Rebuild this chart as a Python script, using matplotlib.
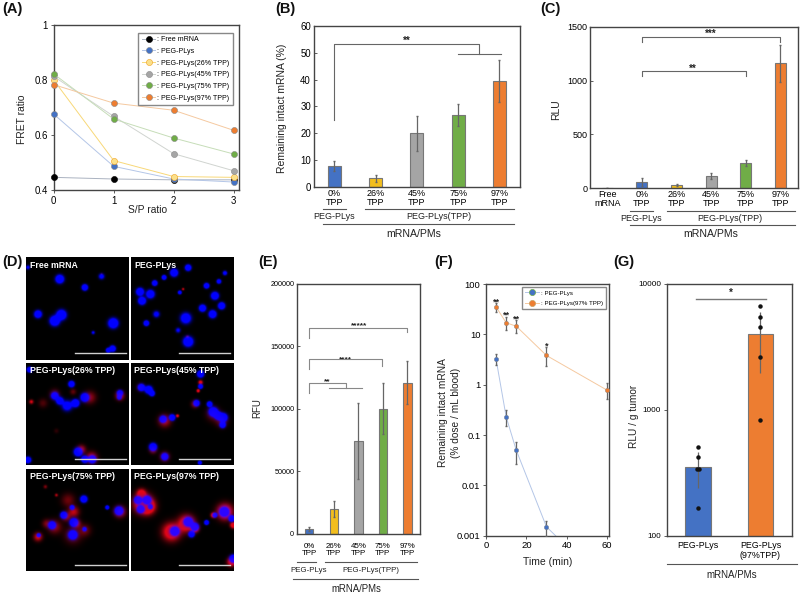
"""Multi-panel figure: FRET, intact mRNA, RLU, microscopy, RFU, blood retention, tumor RLU."""
import matplotlib
matplotlib.use("Agg")
import matplotlib.pyplot as plt
import numpy as np

plt.rcParams["font.family"] = ["Liberation Sans", "DejaVu Sans"]

W, H = 800, 594
BLUE, YELLOW, GRAY, GREEN, ORANGE = "#4472C4", "#F2BE1E", "#A5A5A5", "#70AD47", "#ED7D31"
FRAME = "#444444"
ERR = "#666666"

# (A)
sp_ratio = [0, 1, 2, 3]
fret_free = [0.446, 0.440, 0.437, 0.437]
fret_plys = [0.676, 0.486, 0.440, 0.429]
fret_26 = [0.800, 0.507, 0.449, 0.446]
fret_45 = [0.813, 0.668, 0.532, 0.470]
fret_75 = [0.822, 0.658, 0.589, 0.531]
fret_97 = [0.783, 0.716, 0.690, 0.617]
fret_names = [": Free mRNA", ": PEG-PLys", ": PEG-PLys(26% TPP)", ": PEG-PLys(45% TPP)",
              ": PEG-PLys(75% TPP)", ": PEG-PLys(97% TPP)"]

# (B)
tpp_labels = ["0%\nTPP", "26%\nTPP", "45%\nTPP", "75%\nTPP", "97%\nTPP"]
intact = [7.9, 3.4, 20.1, 26.8, 39.5]
intact_err = [1.9, 1.3, 6.5, 4.1, 7.8]

# (C)
rlu_labels = ["Free\nmRNA"] + tpp_labels
rlu = [5, 60, 30, 112, 235, 1160]
rlu_err = [2, 35, 10, 30, 30, 170]

# (E)
rfu = [3500, 19500, 74000, 100000, 121000]
rfu_err = [1500, 6500, 30500, 20500, 17500]

# (F)
time_min = [5, 10, 15, 30, 60]
blood_plys = [3.2, 0.23, 0.05, 0.0015, 0.0001]
blood_plys_lo = [0.7, 0.08, 0.024, 0.0005, 0]
blood_plys_hi = [0.8, 0.08, 0.022, 0.0005, 0]
blood_97 = [35, 17, 14.5, 3.8, 0.78]
blood_97_lo = [7, 5, 4, 1.4, 0.27]
blood_97_hi = [7, 5, 4.5, 1.8, 0.28]

# (G)
tumor_labels = ["PEG-PLys", "PEG-PLys\n(97%TPP)"]
tumor = [349, 3980]
tumor_lo = [109, 2006]
tumor_hi = [116, 2010]
tumor_pts_plys = [510, 419, 337, 337, 167]
tumor_pts_plys_x = [0, 0, -0.02, 0.02, 0]
tumor_pts_97 = [6643, 5500, 4525, 2614, 836]

# (D) spots: x, y, radius, strength (panel is 307 wide)
micro_names = ["Free mRNA", "PEG-PLys", "PEG-PLys(26% TPP)",
               "PEG-PLys(45% TPP)", "PEG-PLys(75% TPP)", "PEG-PLys(97% TPP)"]
micro_blue = [
    [(100, 65, 11, 1), (175, 90, 8, 1), (225, 57, 8, .5), (35, 170, 10, .9), (85, 190, 13, 1),
     (105, 172, 13, 1), (260, 197, 13, 1), (245, 278, 6, 1), (258, 273, 8, 1), (200, 225, 5, .4),
     (5, 30, 6, .4)],
    [(128, 46, 10, 1), (170, 31, 8, 1), (98, 60, 6, 1), (70, 77, 7, 1), (26, 103, 10, 1),
     (57, 110, 11, .9), (32, 130, 10, 1), (225, 85, 7, 1), (262, 72, 6, .8), (280, 47, 6, .6),
     (250, 115, 10, 1), (213, 152, 9, 1), (243, 170, 10, 1), (270, 145, 9, 1), (163, 182, 14, .8),
     (75, 170, 9, .5), (45, 197, 7, 1), (140, 218, 7, .4), (170, 252, 13, 1), (145, 105, 5, .8)],
    [(135, 65, 8, 1), (85, 100, 10, .8), (100, 115, 10, .8), (122, 130, 14, .6), (147, 122, 10, 1),
     (175, 105, 11, 1), (280, 92, 8, .9), (278, 105, 6, .8), (155, 268, 11, 1), (175, 290, 9, 1),
     (197, 290, 10, 1), (5, 292, 8, 1), (10, 22, 7, 1)],
    [(30, 75, 9, 1), (52, 82, 10, 1), (62, 93, 7, 1), (207, 35, 9, 1), (207, 72, 6, 1),
     (195, 122, 8, 1), (234, 125, 7, 1), (245, 148, 12, 1), (260, 160, 10, 1), (275, 165, 11, 1),
     (273, 187, 8, 1), (95, 170, 9, 1), (122, 165, 8, 1), (65, 253, 10, 1), (100, 282, 9, 1),
     (205, 300, 5, 1)],
    [(172, 92, 9, 1), (137, 117, 6, 1), (112, 140, 9, 1), (142, 162, 11, 1), (77, 170, 10, 1),
     (139, 199, 12, 1), (37, 200, 5, 1), (277, 127, 11, 1), (242, 117, 5, 1), (174, 182, 6, .7)],
    [(20, 95, 10, 1), (47, 95, 11, 1), (28, 122, 10, 1), (57, 115, 6, 1), (278, 130, 13, 1),
     (130, 188, 12, 1), (170, 160, 12, 1), (190, 175, 10, 1), (180, 197, 8, 1), (225, 162, 6, 1),
     (250, 140, 6, 1), (305, 270, 10, 1), (300, 150, 8, 1)],
]
micro_red = [
    [(225, 50, 3, .3)],
    [(168, 238, 5, .5), (155, 95, 4, .6)],
    [(15, 118, 7, .6), (50, 122, 15, .2), (85, 95, 16, .3), (140, 88, 10, .25), (190, 105, 20, .4),
     (280, 100, 14, .6), (165, 260, 14, .5), (195, 285, 18, .6), (90, 205, 8, .12)],
    [(207, 60, 7, .8), (200, 85, 5, 1), (190, 125, 12, .4), (245, 155, 22, .3), (270, 175, 20, .3),
     (100, 175, 20, .5), (138, 160, 5, .8), (65, 262, 12, .4), (100, 282, 15, .45), (28, 75, 12, .25)],
    [(57, 55, 6, .35), (90, 80, 5, .5), (125, 95, 22, .28), (142, 130, 18, .5), (150, 165, 14, .5),
     (85, 175, 22, .4), (140, 200, 28, .3), (175, 185, 20, .28), (35, 205, 14, .6), (280, 130, 18, .6),
     (120, 145, 15, .4), (60, 165, 14, .3)],
    [(35, 105, 30, 1), (50, 115, 22, 1), (30, 75, 14, .8), (120, 190, 28, 1), (165, 165, 26, 1),
     (280, 130, 25, 1), (245, 140, 8, .9), (300, 280, 14, .9), (305, 170, 10, .9), (190, 180, 12, 1)],
]


def px_axes(fig, left, top, right, bottom):
    return fig.add_axes([left / W, 1 - bottom / H, (right - left) / W, (bottom - top) / H])


def style(ax, size):
    for s in ax.spines.values():
        s.set_color(FRAME)
        s.set_linewidth(1.0)
    ax.tick_params(labelsize=size, length=2, width=0.6, color=FRAME, pad=2)
    ax.minorticks_off()


def bars(ax, vals, errs, colors, width, labels, size, ymax, pad=2):
    x = range(len(vals))
    ax.bar(x, vals, width=width, color=colors, edgecolor="#777777", linewidth=0.8)
    ax.errorbar(x, vals, yerr=errs, fmt="none", ecolor=ERR, elinewidth=0.9, capsize=1)
    ax.set_xlim(-0.5, len(vals) - 0.5)
    ax.set_ylim(0, ymax)
    ax.set_xticks(list(x))
    ax.set_xticklabels(labels, fontsize=size, linespacing=1.0)
    style(ax, size)
    ax.tick_params(axis="x", length=0, pad=pad)
    ax.tick_params(axis="y", direction="in")


def line(ax, xs, ys, color="#666666", lw=0.8):
    ax.plot(xs, ys, color=color, lw=lw, clip_on=False, zorder=6)


def stars(ax, x, y, s, size=7):
    # asterisks sit high in the text box, so nudge them down
    ax.annotate(s, (x, y), xytext=(0, -0.22 * size), textcoords="offset points", ha="center",
                va="center", fontsize=size, color="#222222", fontweight="bold")


def micrograph(blue_spots, red_spots):
    yy, xx = np.mgrid[0:307:2, 0:307:2]
    def layer(spots, gain, spread):
        out = np.zeros(xx.shape)
        for x, y, r, a in spots:
            out += a * gain * np.exp(-((xx - x) ** 2 + (yy - y) ** 2) / (2 * (spread * r) ** 2))
        return np.clip(out, 0, 1)
    b = layer(blue_spots, 3.0, 0.68)
    r = layer(red_spots, 1.7, 0.62)
    return np.dstack([0.88 * r * (1 - 0.8 * b), 0.02 * r, np.clip(b + 0.08 * r, 0, 1)])


fig = plt.figure(figsize=(W / 100, H / 100), dpi=100)

# (A)
ax = px_axes(fig, 53.7, 25, 239, 190)
fret_series = [fret_free, fret_plys, fret_26, fret_45, fret_75, fret_97]
fret_fill = ["#000000", BLUE, "#FBE08A", GRAY, GREEN, ORANGE]
fret_line = ["#AAB2C0", "#B4C6E7", "#F8D878", "#D0D4D0", "#C6DDB8", "#F5C9A0"]
for vals, fc, lc, name in zip(fret_series, fret_fill, fret_line, fret_names):
    edge = "#000000" if fc == "#000000" else "#F0A020" if fc == "#FBE08A" else "#8A8A8A"
    ax.plot(sp_ratio, vals, "-o", color=lc, lw=0.7, ms=4.4, mfc=fc, mec=edge, mew=0.4,
            clip_on=False, zorder=4, label=name)
ax.set_xlim(0, 3.09)
ax.set_ylim(0.4, 1)
ax.set_xticks(sp_ratio)
ax.set_yticks([0.4, 0.6, 0.8, 1])
ax.set_yticklabels(["0.4", "0.6", "0.8", "1"])
style(ax, 6.9)
ax.legend(loc="upper left", bbox_to_anchor=((138.3 - 53.7) / 185.3, 1 - (32.7 - 25) / 165), fontsize=5.1,
          frameon=True, fancybox=False, edgecolor="#888888", framealpha=1, borderpad=0.5,
          labelspacing=0.66, handlelength=1.9, handletextpad=0.2, borderaxespad=0)

# (B)
ax = px_axes(fig, 313.7, 25.7, 520, 187.3)
bars(ax, intact, intact_err, [BLUE, YELLOW, GRAY, GREEN, ORANGE], 0.32, tpp_labels, 6.5, 60, pad=1.5)
ax.set_yticks(range(0, 61, 10))
ax.tick_params(axis="y", labelsize=6.9)
line(ax, [0, 0, 3.516, 3.516], [25, 53.2, 53.2, 49.6])
line(ax, [3, 4.05], [49.6, 49.6])
stars(ax, 1.76, 55, "**")

# (C)
ax = px_axes(fig, 590, 26.7, 797.7, 188.3)
bars(ax, rlu, rlu_err, ["#444444", BLUE, YELLOW, GRAY, GREEN, ORANGE], 0.32, rlu_labels, 6.5, 1500, pad=1)
ax.set_yticks([0, 500, 1000, 1500])
line(ax, [1, 1, 5, 5], [1355, 1400, 1400, 1355])
line(ax, [1, 1, 4, 4], [1042, 1092, 1092, 1042])
stars(ax, 3, 1450, "***")
stars(ax, 2.48, 1130, "**")

# (D)
panel_xy = [(26.3, 257.3), (131, 257.3), (26.3, 363), (131, 363), (26.3, 468.7), (131, 468.7)]
for (px, py), name, b_spots, r_spots in zip(panel_xy, micro_names, micro_blue, micro_red):
    ax = px_axes(fig, px, py, px + 102.3, py + 102.3)
    ax.imshow(micrograph(b_spots, r_spots), extent=(0, 307, 307, 0), interpolation="bilinear")
    ax.plot([145, 298], [288, 288], color="#D0D0D0", lw=1.0)
    ax.text(10, 24, name, color="white", fontsize=6.3, fontweight="bold", va="center")
    ax.set_xlim(0, 307)
    ax.set_ylim(307, 0)
    ax.axis("off")

# (E)
ax = px_axes(fig, 297, 284, 419.7, 533.7)
bars(ax, rfu, rfu_err, [BLUE, YELLOW, GRAY, GREEN, ORANGE], 0.34, tpp_labels, 5.7, 200000, pad=7)
ax.set_yticks(range(0, 200001, 50000))
ax.tick_params(axis="y", labelsize=5.2)
line(ax, [0, 0, 3.97, 3.97], [157000, 165000, 165000, 161300], "#888888")
line(ax, [0, 0, 2.95, 2.95], [131600, 139600, 139600, 134600], "#888888")
line(ax, [0, 0, 1.48, 1.48], [113000, 121000, 121000, 117000], "#888888")
line(ax, [0.82, 2.13], [117000, 117000], "#888888")
stars(ax, 2.04, 167700, "*****", 6)
stars(ax, 1.48, 141000, "****", 6)
stars(ax, 0.75, 122800, "**", 6)

# (F)
ax = px_axes(fig, 486, 284, 609, 535.7)
ax.plot(time_min, blood_plys, "-", color="#B4C6E7", lw=0.7, zorder=2)
ax.plot(time_min, blood_97, "-", color="#F5C9A0", lw=0.7, zorder=2)
ax.errorbar(time_min[:4], blood_plys[:4], yerr=[blood_plys_lo[:4], blood_plys_hi[:4]], fmt="none",
            ecolor=ERR, elinewidth=0.9, capsize=1, zorder=3)
ax.errorbar(time_min, blood_97, yerr=[blood_97_lo, blood_97_hi], fmt="none",
            ecolor=ERR, elinewidth=0.9, capsize=1, zorder=3)
ax.plot(time_min[:4], blood_plys[:4], "o", ms=3.2, mfc=BLUE, mec="#8A8A8A", mew=0.3, zorder=4)
ax.plot(time_min, blood_97, "o", ms=3.2, mfc=ORANGE, mec="#8A8A8A", mew=0.3, zorder=4, clip_on=False)
ax.set_yscale("log")
ax.set_xlim(0, 61)
ax.set_ylim(0.001, 100)
ax.set_xticks([0, 20, 40, 60])
ax.set_yticks([0.001, 0.01, 0.1, 1, 10, 100])
ax.set_yticklabels(["0.001", "0.01", "0.1", "1", "10", "100"])
style(ax, 6.8)
for x, y, s in zip(time_min[:4], [48, 26, 21.8, 6.4], ["**", "**", "**", "*"]):
    stars(ax, x, y, s, 6.5)
h1, = ax.plot([], [], "-o", color="#B4C6E7", lw=0.7, ms=4.4, mfc=BLUE, mec=GREEN, mew=0.5)
h2, = ax.plot([], [], "-o", color="#F5C9A0", lw=0.7, ms=4.4, mfc=ORANGE, mec="#C8A060", mew=0.5)
ax.legend([h1, h2], [": PEG-PLys", ": PEG-PLys(97% TPP)"], loc="upper left",
          bbox_to_anchor=((521.7 - 486) / 123, 1 - (287.3 - 284) / 251.7), fontsize=4.4, frameon=True,
          fancybox=False, edgecolor="#888888", framealpha=1, borderpad=0.5, labelspacing=0.8,
          handlelength=2.4, handletextpad=0.2, borderaxespad=0)

# (G)
ax = px_axes(fig, 666.7, 284, 791.7, 535.7)
ax.bar([0, 1], tumor, width=0.405, color=[BLUE, ORANGE], edgecolor="#777777", linewidth=0.8, bottom=0)
ax.errorbar([0, 1], tumor, yerr=[tumor_lo, tumor_hi], fmt="none", ecolor=ERR, elinewidth=0.9)
ax.plot(tumor_pts_plys_x, tumor_pts_plys, "o", ms=2.2, color="#111111", zorder=5)
ax.plot([1] * len(tumor_pts_97), tumor_pts_97, "o", ms=2.2, color="#111111", zorder=5)
ax.set_yscale("log")
ax.set_xlim(-0.5, 1.5)
ax.set_ylim(100, 10000)
ax.set_xticks([0, 1])
ax.set_xticklabels(tumor_labels, fontsize=6.4, linespacing=1.15)
ax.set_yticks([100, 1000, 10000])
ax.set_yticklabels(["100", "1000", "10000"])
style(ax, 5.9)
ax.tick_params(axis="x", length=0, pad=4, labelsize=6.4)
line(ax, [-0.03, 1.09], [7600, 7600], "#777777", 1.0)
stars(ax, 0.53, 8800, "*", 7)

# overlay in pixel coordinates for the outer labels and group rules
pix = fig.add_axes([0, 0, 1, 1], zorder=20)
pix.set_xlim(0, W)
pix.set_ylim(H, 0)
pix.axis("off")


def t(x, y, s, size, rot=0, **kw):
    pix.text(x, y, s, fontsize=size, rotation=rot, ha=kw.pop("ha", "center"), va="center",
             color=kw.pop("color", "#222222"), linespacing=1.15, **kw)


def rule(x0, x1, y):
    pix.plot([x0, x1], [y, y], color="#555555", lw=0.8)


for x, y, s in [(2, 9, "(A)"), (275, 9, "(B)"), (540.7, 9, "(C)"), (2, 262, "(D)"),
                (258, 262, "(E)"), (434, 262, "(F)"), (613, 262, "(G)")]:
    t(x, y, s, 10.5, ha="left", fontweight="bold", color="#111111")

t(148, 210, "S/P ratio", 7.4)
t(22, 119, "FRET ratio", 7.4, rot=90)
t(281.7, 108, "Remaining intact mRNA (%)", 7.5, rot=90)
t(556, 110, "RLU", 7.5, rot=90)
t(257.7, 407.7, "RFU", 7, rot=90)
t(443.3, 413, "Remaining intact mRNA", 7.3, rot=90)
t(456, 413, "(% dose / mL blood)", 7.3, rot=90)
t(548, 562.3, "Time (min)", 7.5)
t(634.3, 416.7, "RLU / g tumor", 7.3, rot=90)

rule(323, 346, 209.3)
rule(365, 514, 209.3)
rule(323, 514, 224)
t(334.3, 216.7, "PEG-PLys", 6.5)
t(439.3, 216.7, "PEG-PLys(TPP)", 6.5)
t(413.3, 234, "mRNA/PMs", 7.6)

rule(630, 652.7, 210.7)
rule(666.7, 795, 210.7)
rule(630, 795, 225.3)
t(641, 218.3, "PEG-PLys", 6.5)
t(730, 218.3, "PEG-PLys(TPP)", 6.5)
t(710.3, 234.3, "mRNA/PMs", 7.6)

rule(296.7, 316, 561.7)
rule(325, 416.7, 561.7)
rule(293, 418, 579)
t(308.3, 571, "PEG-PLys", 5.7)
t(371, 571, "PEG-PLys(TPP)", 5.7)
t(356, 589, "mRNA/PMs", 6.9)

rule(666.7, 796.7, 564)
t(731.7, 575, "mRNA/PMs", 7)

fig.savefig("out.png", dpi=100)
